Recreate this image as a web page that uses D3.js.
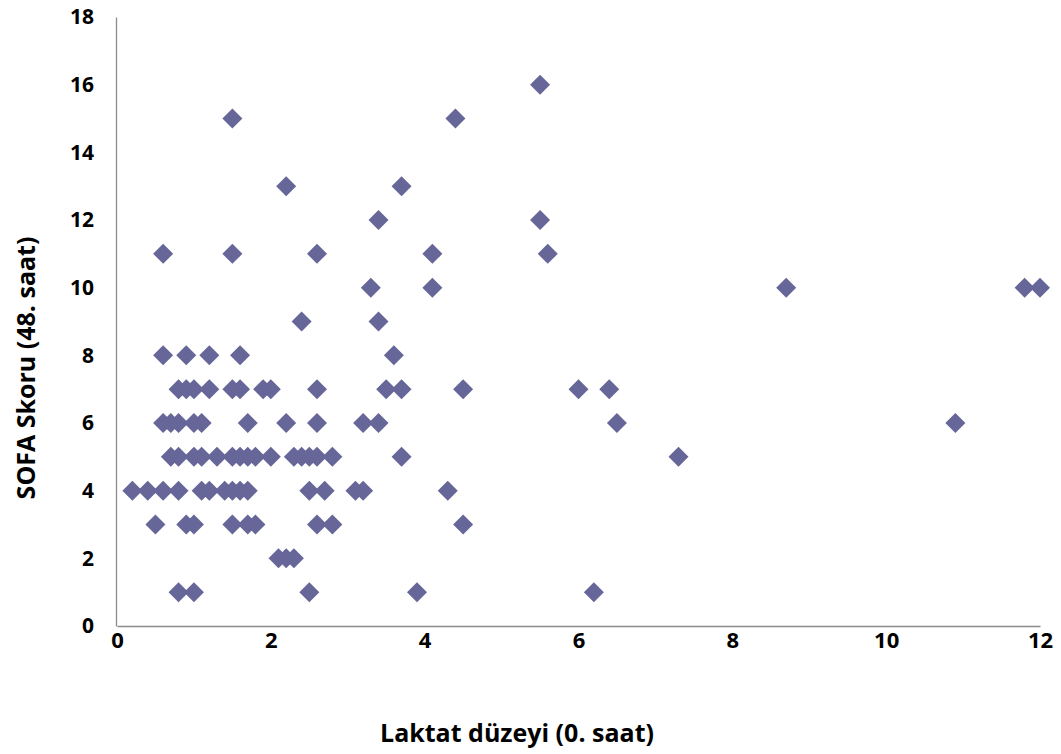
<!DOCTYPE html>
<html>
<head>
<meta charset="utf-8">
<script src="https://cdn.jsdelivr.net/npm/d3@7"></script>
<style>
  body { margin: 0; background: #fff; }
</style>
</head>
<body>
<div id="chart"></div>
<script>
// Laktat (0. saat) vs SOFA (48. saat), one entry per patient
const lactate = [
  5.5,
  1.5, 4.4,
  2.2, 3.7,
  3.4, 5.5,
  0.6, 1.5, 2.6, 4.1, 5.6,
  3.3, 4.1, 8.7, 11.8, 12.0,
  2.4, 3.4,
  0.6, 0.9, 1.2, 1.6, 3.6,
  0.8, 0.9, 1.0, 1.2, 1.5, 1.6, 1.9, 2.0, 2.6, 3.5, 3.7, 4.5, 6.0, 6.4,
  0.6, 0.7, 0.8, 1.0, 1.1, 1.7, 2.2, 2.6, 3.2, 3.4, 6.5, 10.9,
  0.7, 0.8, 1.0, 1.1, 1.3, 1.5, 1.6, 1.7, 1.8, 2.0, 2.3, 2.4, 2.5, 2.6, 2.8, 3.7, 7.3,
  0.2, 0.4, 0.6, 0.8, 1.1, 1.2, 1.4, 1.5, 1.6, 1.7, 2.5, 2.7, 3.1, 3.2, 4.3,
  0.5, 0.9, 1.0, 1.5, 1.7, 1.8, 2.6, 2.8, 4.5,
  2.1, 2.2, 2.3,
  0.8, 1.0, 2.5, 3.9, 6.2
];
const sofa = [
  16,
  15, 15,
  13, 13,
  12, 12,
  11, 11, 11, 11, 11,
  10, 10, 10, 10, 10,
  9, 9,
  8, 8, 8, 8, 8,
  7, 7, 7, 7, 7, 7, 7, 7, 7, 7, 7, 7, 7, 7,
  6, 6, 6, 6, 6, 6, 6, 6, 6, 6, 6, 6,
  5, 5, 5, 5, 5, 5, 5, 5, 5, 5, 5, 5, 5, 5, 5, 5, 5,
  4, 4, 4, 4, 4, 4, 4, 4, 4, 4, 4, 4, 4, 4, 4,
  3, 3, 3, 3, 3, 3, 3, 3, 3,
  2, 2, 2,
  1, 1, 1, 1, 1
];
const xTicks = [0, 2, 4, 6, 8, 10, 12];
const yTicks = [0, 2, 4, 6, 8, 10, 12, 14, 16, 18];

const width = 1061, height = 754;
const margin = { top: 17, right: 21, bottom: 128, left: 117 };
const font = '"Open Sans", sans-serif';

const svg = d3.select('#chart')
  .append('svg')
  .attr('width', width)
  .attr('height', height);

const x = d3.scaleLinear()
  .domain([0, 12])
  .range([margin.left, width - margin.right]);

const y = d3.scaleLinear()
  .domain([0, 18])
  .range([height - margin.bottom, margin.top]);

// axes: plain grey lines, no tick marks
const xAxis = svg.append('g')
  .attr('transform', `translate(0,${y(0)})`)
  .call(d3.axisBottom(x).tickValues(xTicks).tickSize(0).tickPadding(6).tickFormat(d3.format('d')));
xAxis.select('.domain').attr('stroke', '#8c8c8c').attr('stroke-width', 1.3);
xAxis.selectAll('text')
  .style('font-family', font)
  .style('font-weight', 'bold')
  .style('font-size', '22px')
  .attr('fill', '#000');

const yAxis = svg.append('g')
  .attr('transform', `translate(${x(0) - 1},0)`)
  .call(d3.axisLeft(y).tickValues(yTicks).tickSize(0).tickPadding(22).tickFormat(d3.format('d')));
yAxis.select('.domain').attr('stroke', '#8c8c8c').attr('stroke-width', 1.3);
yAxis.selectAll('text')
  .style('font-family', font)
  .style('font-weight', 'bold')
  .style('font-size', '21px')
  .attr('fill', '#000');

// diamond markers
const points = lactate.map((v, i) => ({ x: v, y: sofa[i] }));
const diamond = d3.symbol().type(d3.symbolSquare).size(200);

svg.append('g')
  .selectAll('path')
  .data(points)
  .enter()
  .append('path')
  .attr('d', diamond)
  .attr('transform', d => `translate(${x(d.x)},${y(d.y)}) rotate(45)`)
  .attr('fill', '#666699');

// axis titles
svg.append('text')
  .attr('x', 517)
  .attr('y', 742)
  .attr('text-anchor', 'middle')
  .style('font-family', font)
  .style('font-weight', 'bold')
  .style('font-size', '25px')
  .text('Laktat düzeyi (0. saat)');

svg.append('text')
  .attr('transform', 'rotate(-90)')
  .attr('x', -368)
  .attr('y', 35)
  .attr('text-anchor', 'middle')
  .style('font-family', font)
  .style('font-weight', 'bold')
  .style('font-size', '25px')
  .text('SOFA Skoru (48. saat)');
</script>
</body>
</html>
